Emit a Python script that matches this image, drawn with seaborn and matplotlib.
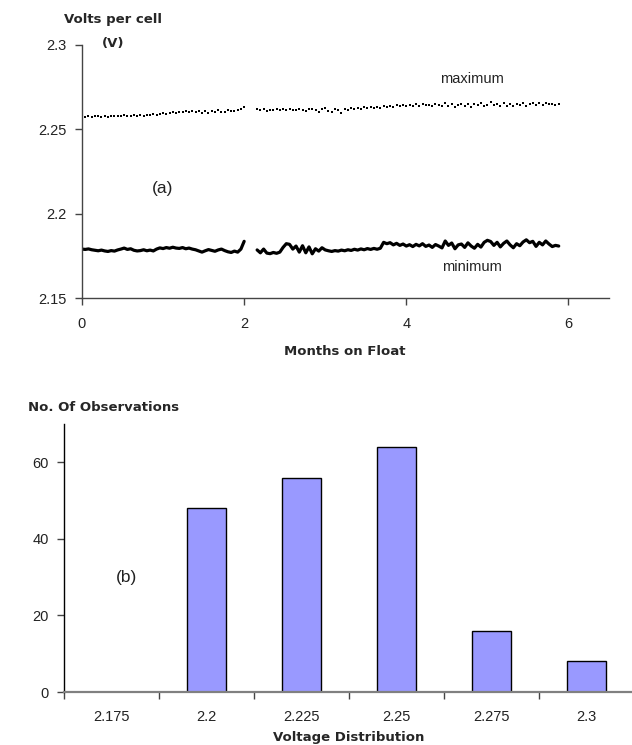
import numpy as np
import pandas as pd
import matplotlib
matplotlib.use("Agg")
import matplotlib.pyplot as plt
import seaborn as sns

# (a) cell voltage on float, two stretches of logging with a gap near month 2
step = 0.04
start_a = 0.0
start_b = 2.16

min_a = [2.1790, 2.1788, 2.1791, 2.1786, 2.1783, 2.1780, 2.1784, 2.1779, 2.1776, 2.1781,
         2.1778, 2.1785, 2.1790, 2.1796, 2.1788, 2.1792, 2.1783, 2.1779, 2.1781, 2.1786,
         2.1780, 2.1784, 2.1779, 2.1790, 2.1797, 2.1793, 2.1799, 2.1795, 2.1801, 2.1796,
         2.1794, 2.1799, 2.1792, 2.1796, 2.1790, 2.1786, 2.1779, 2.1772, 2.1780, 2.1787,
         2.1782, 2.1777, 2.1785, 2.1790, 2.1781, 2.1774, 2.1770, 2.1778, 2.1772, 2.1790,
         2.1836]
min_b = [2.1785, 2.1768, 2.1790, 2.1766, 2.1763, 2.1770, 2.1765, 2.1772, 2.1800, 2.1822,
         2.1818, 2.1790, 2.1808, 2.1772, 2.1810, 2.1768, 2.1803, 2.1762, 2.1792, 2.1778,
         2.1798, 2.1785, 2.1780, 2.1776, 2.1781, 2.1778, 2.1784, 2.1780, 2.1786, 2.1782,
         2.1789, 2.1784, 2.1791, 2.1786, 2.1793, 2.1788, 2.1794, 2.1789, 2.1795, 2.1830,
         2.1822, 2.1828, 2.1815, 2.1824, 2.1812, 2.1820, 2.1808, 2.1816, 2.1805, 2.1818,
         2.1809, 2.1822, 2.1806, 2.1814, 2.1800, 2.1817, 2.1808, 2.1797, 2.1838, 2.1812,
         2.1826, 2.1792, 2.1815, 2.1820, 2.1800, 2.1827, 2.1808, 2.1795, 2.1818, 2.1802,
         2.1830, 2.1842, 2.1835, 2.1812, 2.1830, 2.1803, 2.1824, 2.1838, 2.1815, 2.1798,
         2.1822, 2.1810, 2.1832, 2.1845, 2.1828, 2.1836, 2.1806, 2.1830, 2.1815, 2.1838,
         2.1820, 2.1805, 2.1812, 2.1808]

max_a = [2.2578, 2.2576, 2.2579, 2.2575, 2.2578, 2.2577, 2.2574, 2.2579, 2.2576, 2.2578,
         2.2581, 2.2577, 2.2580, 2.2583, 2.2579, 2.2582, 2.2585, 2.2580, 2.2584, 2.2581,
         2.2586, 2.2583, 2.2588, 2.2584, 2.2590, 2.2595, 2.2592, 2.2597, 2.2601, 2.2598,
         2.2604, 2.2600, 2.2606, 2.2603, 2.2608, 2.2602, 2.2611, 2.2598, 2.2606, 2.2594,
         2.2609, 2.2603, 2.2612, 2.2605, 2.2600, 2.2613, 2.2607, 2.2610, 2.2616, 2.2621,
         2.2631]
max_b = [2.2622, 2.2614, 2.2619, 2.2610, 2.2616, 2.2612, 2.2618, 2.2613, 2.2620, 2.2615,
         2.2622, 2.2617, 2.2612, 2.2621, 2.2616, 2.2608, 2.2619, 2.2623, 2.2614, 2.2605,
         2.2618, 2.2624, 2.2611, 2.2602, 2.2620, 2.2615, 2.2599, 2.2622, 2.2612, 2.2626,
         2.2618, 2.2628, 2.2621, 2.2630, 2.2624, 2.2633, 2.2627, 2.2635, 2.2629, 2.2638,
         2.2632, 2.2640, 2.2634, 2.2642, 2.2636, 2.2645, 2.2638, 2.2646, 2.2640, 2.2648,
         2.2641, 2.2650, 2.2643, 2.2647, 2.2639, 2.2652, 2.2644, 2.2637, 2.2655, 2.2641,
         2.2649, 2.2630, 2.2645, 2.2653, 2.2638, 2.2648, 2.2635, 2.2651, 2.2642, 2.2656,
         2.2639, 2.2647, 2.2662, 2.2644, 2.2652, 2.2638, 2.2655, 2.2641, 2.2649, 2.2636,
         2.2653, 2.2645, 2.2658, 2.2640, 2.2651, 2.2657, 2.2643, 2.2654, 2.2647, 2.2659,
         2.2648, 2.2652, 2.2645, 2.2650]

# (b) histogram of cell voltages
volt_bins = ["2.175", "2.2", "2.225", "2.25", "2.275", "2.3"]
n_obs = [0, 48, 56, 64, 16, 8]


def months(start, vals):
    return start + step * np.arange(len(vals))


def segment_frame(vals_a, vals_b):
    return pd.DataFrame({
        "month": np.concatenate([months(start_a, vals_a), months(start_b, vals_b)]),
        "volts": np.concatenate([vals_a, vals_b]),
        "seg": ["a"] * len(vals_a) + ["b"] * len(vals_b),
    })


df_min = segment_frame(min_a, min_b)
df_max = segment_frame(max_a, max_b)
df_hist = pd.DataFrame({"bin": volt_bins, "count": n_obs})

sns.set_style("ticks")
plt.rcParams["font.family"] = ["Liberation Sans", "DejaVu Sans"]

fig = plt.figure(figsize=(6.32, 7.45), dpi=100)

# ---- top panel ----
ax1 = fig.add_axes([82 / 632, 1 - 298 / 745, 527 / 632, 253 / 745])
for seg, d in df_min.groupby("seg"):
    sns.lineplot(data=d, x="month", y="volts", ax=ax1, color="black",
                 linewidth=2.3, sort=False, legend=False)
for seg, d in df_max.groupby("seg"):
    sns.scatterplot(data=d, x="month", y="volts", ax=ax1, color="black",
                    marker="s", s=3.2, linewidth=0, legend=False)
ax1.set_xlim(0, 6.5)
ax1.set_ylim(2.15, 2.3)
ax1.set_xticks([0, 2, 4, 6])
ax1.set_yticks([2.15, 2.2, 2.25, 2.3])
ax1.set_yticklabels(["2.15", "2.2", "2.25", "2.3"])
ax1.set_xlabel("")
ax1.set_ylabel("")
sns.despine(ax=ax1)
for sp in ["left", "bottom"]:
    ax1.spines[sp].set_color("#444444")
    ax1.spines[sp].set_linewidth(1.0)
ax1.tick_params(axis="both", length=5, width=1, color="#444444",
                labelsize=10.5, labelcolor="#222222", pad=6)
ax1.tick_params(axis="x", pad=9)
ax1.text(0.99, 2.215, "(a)", fontsize=12.5, ha="center", va="center", color="#222222")
ax1.text(4.81, 2.2798, "maximum", fontsize=10.5, ha="center", va="center", color="#222222")
ax1.text(4.81, 2.1684, "minimum", fontsize=10.5, ha="center", va="center", color="#222222")

fig.text(113 / 632, 1 - 19 / 745, "Volts per cell", fontsize=9.5, fontweight="bold",
         ha="center", va="center", family=["DejaVu Sans"])
fig.text(113 / 632, 1 - 43 / 745, "(V)", fontsize=9.5, fontweight="bold",
         ha="center", va="center", family=["DejaVu Sans"])
fig.text(345 / 632, 1 - 352 / 745, "Months on Float", fontsize=9.5, fontweight="bold",
         ha="center", va="center", family=["DejaVu Sans"])

# ---- bottom panel ----
ax2 = fig.add_axes([64 / 632, 1 - 692 / 745, 568 / 632, 268 / 745])
sns.barplot(data=df_hist, x="bin", y="count", ax=ax2, order=volt_bins,
            color="#9999ff", saturation=1, width=0.41, edgecolor="black",
            linewidth=1.0)
ax2.set_xlim(-0.5, 5.48)
ax2.set_ylim(0, 70)
ax2.set_yticks([0, 20, 40, 60])
ax2.set_xlabel("")
ax2.set_ylabel("")
sns.despine(ax=ax2)
ax2.spines["left"].set_color("black")
ax2.spines["left"].set_linewidth(1.0)
ax2.spines["bottom"].set_color("#808080")
ax2.spines["bottom"].set_linewidth(1.6)
ax2.tick_params(axis="x", which="major", length=0, labelsize=10.5,
                labelcolor="#222222", pad=13)
ax2.set_xticks(np.arange(-0.5, 5.0, 1.0), minor=True)
ax2.tick_params(axis="x", which="minor", length=5, width=1, color="#444444")
ax2.tick_params(axis="y", length=5, width=1, color="#444444", labelsize=10.5,
                labelcolor="#222222", pad=6)
ax2.text(0.16, 30, "(b)", fontsize=12.5, ha="center", va="center", color="#222222")

fig.text(104 / 632, 1 - 407 / 745, "No. Of Observations", fontsize=9.5, fontweight="bold",
         ha="center", va="center", family=["DejaVu Sans"])
fig.text(349 / 632, 1 - 737 / 745, "Voltage Distribution", fontsize=9.5, fontweight="bold",
         ha="center", va="center", family=["DejaVu Sans"])

fig.savefig("out.png", dpi=100)
